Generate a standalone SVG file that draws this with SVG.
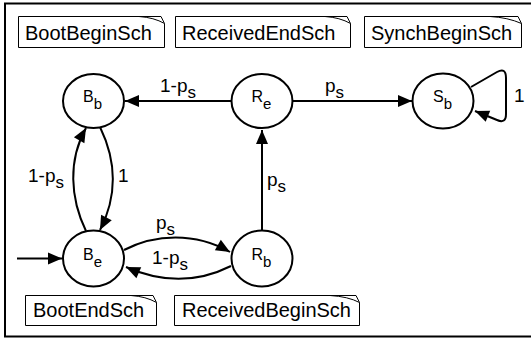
<svg xmlns="http://www.w3.org/2000/svg" width="531" height="339" viewBox="0 0 531 339">
  <style>
    .frame { fill: #fff; stroke: #000; stroke-width: 2; }
    .note { fill: #fff; stroke: #000; stroke-width: 1; }
    .fold { fill: none; stroke: #000; stroke-width: 1; }
    .noteText { font-family: "Liberation Sans", Arial, sans-serif; font-size: 20px; fill: #000; }
    .state { fill: #fff; stroke: #000; stroke-width: 2; }
    .stateText { font-family: "Liberation Sans", Arial, sans-serif; font-size: 16px; fill: #000; }
    .edge { fill: none; stroke: #000; stroke-width: 2; marker-end: url(#arrow); }
    .edgeText { font-family: "Liberation Sans", Arial, sans-serif; font-size: 19px; fill: #000; }
    .sub { font-size: 17px; }
  </style>
  <defs>
    <marker id="arrow" markerUnits="userSpaceOnUse" markerWidth="16" markerHeight="14" viewBox="0 0 16 14" refX="15" refY="7" orient="auto">
      <path d="M1,1 L15,7 L1,13 Z" fill="#000"/>
    </marker>
  </defs>

  <!-- enclosing frame -->
  <rect class="frame" x="5" y="3.5" width="530" height="333"/>

  <!-- schedule notes -->
  <g id="note-bootbegin">
    <path class="note" d="M18.5,16.5 H161 L164.5,23.5 V47.5 H18.5 Z"/>
    <path class="fold" d="M139,16.5 Q154,17.5 164.5,23.5"/>
    <text class="noteText" x="25" y="39.5">BootBeginSch</text>
  </g>
  <g id="note-receivedend">
    <path class="note" d="M175.5,16.5 H347 L350.5,23.5 V47.5 H175.5 Z"/>
    <path class="fold" d="M325,16.5 Q340,17.5 350.5,23.5"/>
    <text class="noteText" x="182" y="39.5">ReceivedEndSch</text>
  </g>
  <g id="note-synchbegin">
    <path class="note" d="M364.5,16.5 H518 L521.5,23.5 V47.5 H364.5 Z"/>
    <path class="fold" d="M490,16.5 Q508,17.5 521.5,23.5"/>
    <text class="noteText" x="371" y="39.5">SynchBeginSch</text>
  </g>
  <g id="note-bootend">
    <path class="note" d="M25.5,295.5 H153 L156.5,302.5 V325.5 H25.5 Z"/>
    <path class="fold" d="M131,295.5 Q146,296.5 156.5,302.5"/>
    <text class="noteText" x="33" y="317">BootEndSch</text>
  </g>
  <g id="note-receivedbegin">
    <path class="note" d="M174.5,295.5 H356 L359.5,302.5 V325.5 H174.5 Z"/>
    <path class="fold" d="M330,295.5 Q348,296.5 359.5,302.5"/>
    <text class="noteText" x="182" y="317">ReceivedBeginSch</text>
  </g>

  <!-- transitions -->
  <g id="connectors">
    <path class="edge" d="M231,101 L125,101"/>
    <path class="edge" d="M292,101 L412,101"/>
    <path class="edge" d="M262,230 L262,130"/>
    <path class="edge" d="M86,231 C70,198 68,160 86,128"/>
    <path class="edge" d="M100,127 C116,160 118,195 100,230"/>
    <path class="edge" d="M124,250 C155,234 195,232 230,252"/>
    <path class="edge" d="M231,266 C195,284 160,282 126,267"/>
    <path class="edge" d="M17,258.5 L62,258.5"/>
    <path class="edge" d="M471,87 L497,72 Q506,67 506,78 L506,114 Q506,124 497,120 L475,111"/>

    <text class="edgeText" x="160" y="92">1-p<tspan class="sub" dy="6">s</tspan></text>
    <text class="edgeText" x="325" y="92">p<tspan class="sub" dy="6">s</tspan></text>
    <text class="edgeText" x="267" y="186">p<tspan class="sub" dy="6">s</tspan></text>
    <text class="edgeText" x="28" y="182">1-p<tspan class="sub" dy="6">s</tspan></text>
    <text class="edgeText" x="118" y="182">1</text>
    <text class="edgeText" x="156" y="229">p<tspan class="sub" dy="6">s</tspan></text>
    <text class="edgeText" x="152" y="264">1-p<tspan class="sub" dy="6">s</tspan></text>
    <text class="edgeText" x="514" y="102">1</text>
  </g>

  <!-- states -->
  <g id="state-Bb">
    <ellipse class="state" cx="93.5" cy="101" rx="30.5" ry="27"/>
    <text class="stateText" x="83" y="102">B<tspan dy="7" font-size="15">b</tspan></text>
  </g>
  <g id="state-Re">
    <ellipse class="state" cx="262" cy="101" rx="30.5" ry="27"/>
    <text class="stateText" x="251.5" y="102">R<tspan dy="7" font-size="15">e</tspan></text>
  </g>
  <g id="state-Sb">
    <ellipse class="state" cx="443" cy="101" rx="30.5" ry="27.5"/>
    <text class="stateText" x="433" y="102">S<tspan dy="7" font-size="15">b</tspan></text>
  </g>
  <g id="state-Be">
    <ellipse class="state" cx="93.5" cy="258.5" rx="30.5" ry="28"/>
    <text class="stateText" x="83" y="260">B<tspan dy="7" font-size="15">e</tspan></text>
  </g>
  <g id="state-Rb">
    <ellipse class="state" cx="262" cy="258.5" rx="30.5" ry="28"/>
    <text class="stateText" x="251.5" y="260">R<tspan dy="7" font-size="15">b</tspan></text>
  </g>
</svg>
